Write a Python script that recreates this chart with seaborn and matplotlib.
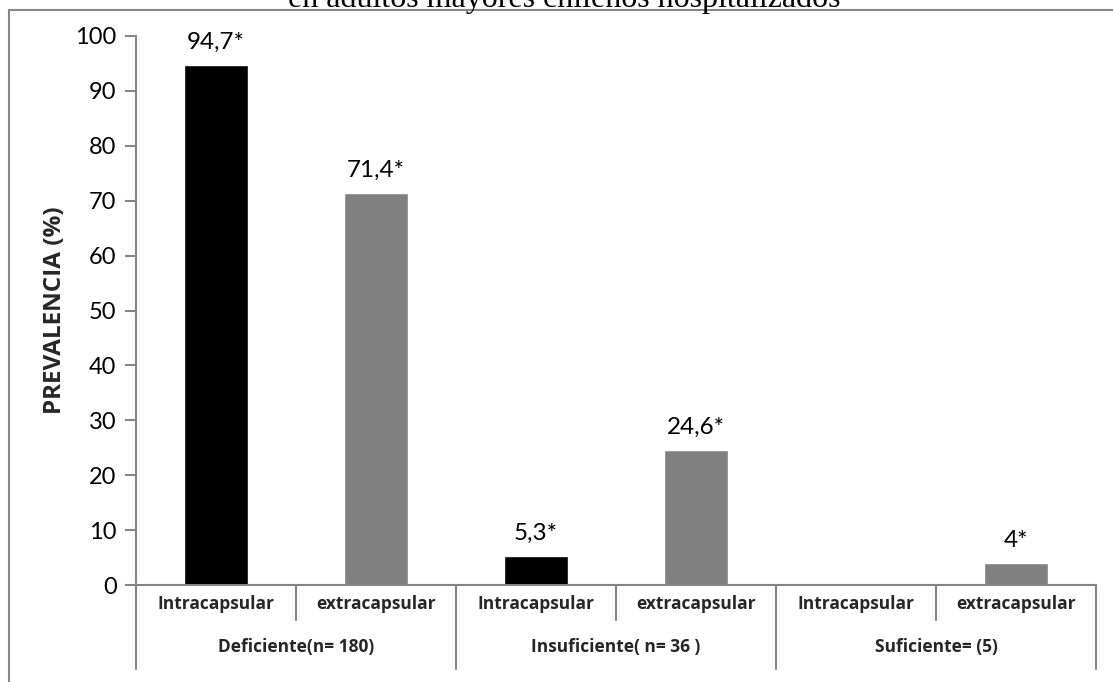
import matplotlib
matplotlib.use("Agg")
import matplotlib.pyplot as plt
from matplotlib.lines import Line2D
import seaborn as sns
import pandas as pd

# Data
groups = ["Deficiente(n= 180)", "Insuficiente( n= 36 )", "Suficiente= (5)"]
fractures = ["Intracapsular", "extracapsular"]
prevalence = [94.7, 71.4, 5.3, 24.6, 0.0, 4.0]
value_labels = ["94,7*", "71,4*", "5,3*", "24,6*", "", "4*"]
yticks = [0, 10, 20, 30, 40, 50, 60, 70, 80, 90, 100]
title = "en adultos mayores chilenos hospitalizados"
ylabel = "PREVALENCIA (%)"

rows = []
for gi, g in enumerate(groups):
    for fi, f in enumerate(fractures):
        rows.append({"slot": f"{g}|{f}", "tipo": f,
                     "valor": prevalence[gi * len(fractures) + fi]})
df = pd.DataFrame(rows)

sns.set_theme(style="white")
plt.rcParams["font.family"] = ["Lato", "DejaVu Sans"]
bold_font = ["Open Sans", "DejaVu Sans"]

W, H = 1113, 682
fig = plt.figure(figsize=(W / 100, H / 100), dpi=100)
ax = fig.add_axes([136 / W, 1 - 585 / H, (1096 - 136) / W, (585 - 36) / H])

axis_grey = "#868686"
sns.barplot(data=df, x="slot", y="valor", hue="tipo",
            palette={"Intracapsular": "#000000", "extracapsular": "#808080"},
            order=df["slot"], hue_order=fractures, dodge=False, width=0.4,
            legend=False, ax=ax, saturation=1)

ax.set_ylim(0, 100)
ax.set_xlim(-0.5, len(df) - 0.5)
ax.set_yticks(yticks)
ax.set_yticklabels([str(t) for t in yticks], fontsize=17, color="#000000")
ax.set_xticks([])
ax.set_xlabel("")
ax.set_ylabel(ylabel, fontsize=17.5, fontweight="bold", family=bold_font,
              labelpad=6)
ax.tick_params(axis="y", length=8, width=1.5, color=axis_grey, pad=6, left=True)
for side in ["top", "right"]:
    ax.spines[side].set_visible(False)
for side in ["left", "bottom"]:
    ax.spines[side].set_color(axis_grey)
    ax.spines[side].set_linewidth(1.5)

# Value labels above the bars
for i, (v, lab) in enumerate(zip(prevalence, value_labels)):
    if lab:
        ax.annotate(lab, (i, v), xytext=(0, 9), textcoords="offset points",
                    ha="center", va="bottom", fontsize=17.5, color="#000000")

# Two-level category axis
trans = ax.get_xaxis_transform()
px = 1 / (585 - 36)
n_sub = len(fractures)
for k in range(len(df) + 1):
    xk = k - 0.5
    long = k % n_sub == 0
    y_end = -(669 - 585) * px if long else -(620 - 585) * px
    ax.add_line(Line2D([xk, xk], [0, y_end], transform=trans, color=axis_grey,
                       lw=1.5, clip_on=False))
for i, row in df.iterrows():
    ax.text(i, -(604 - 585) * px, row["tipo"], transform=trans, ha="center",
            va="center", fontsize=12.5, fontweight="bold", family=bold_font)
for gi, g in enumerate(groups):
    xc = gi * n_sub + (n_sub - 1) / 2
    ax.text(xc, -(647 - 585) * px, g, transform=trans, ha="center",
            va="center", fontsize=12.5, fontweight="bold", family=bold_font)

# Outer chart frame and title
fig.add_artist(Line2D([9 / W, 9 / W], [0, 1 - 10 / H], color=axis_grey, lw=1.5))
fig.add_artist(Line2D([9 / W, 1], [1 - 10 / H, 1 - 10 / H], color=axis_grey, lw=1.5))
fig.text(564 / W, 1 + 1 / H, title, ha="center", va="center", fontsize=23,
         family=["Liberation Serif"], color="#000000")

fig.savefig("out.png", dpi=100)
